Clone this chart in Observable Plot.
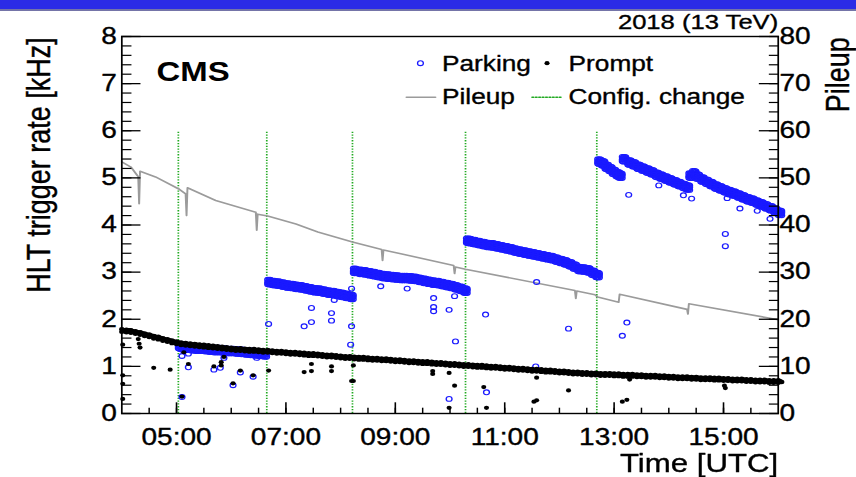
<!DOCTYPE html>
<html><head><meta charset="utf-8">
<script src="https://cdn.jsdelivr.net/npm/d3@7"></script>
<script src="https://cdn.jsdelivr.net/npm/@observablehq/plot@0.6"></script>
<style>
html,body{margin:0;padding:0;background:#fff;width:856px;height:477px;overflow:hidden;}
#bar{position:absolute;left:0;top:0;width:856px;height:9px;background:#2b2be6;border-bottom:2px solid #7474a8;z-index:2;}
#wrap{position:absolute;left:0;top:0;width:702px;height:477px;transform:scaleX(1.2194);transform-origin:0 0;}
</style></head><body>
<div id="bar"></div>
<div id="wrap"></div>
<script>
// ---------- data (time in minutes after 00:00 UTC, rate in kHz) ----------
const timeDomain = ["04:00", "16:00"];
const xTickLabels = ["05:00", "07:00", "09:00", "11:00", "13:00", "15:00"];
const yTickLabels = [0, 1, 2, 3, 4, 5, 6, 7, 8];
const pileupTickLabels = [0, 10, 20, 30, 40, 50, 60, 70, 80];
const pileupPerKHz = 10;
const configChange = ["05:02", "06:39", "08:13", "10:17", "12:41"];
const configTop = 6;

const promptTime = [
 240,245,250,255,260,265,270,275,280,285,290,295,
 300,305,310,315,320,325,330,335,340,345,350,355,
 360,365,370,375,380,385,390,395,400,405,410,415,
 420,425,430,435,440,445,450,455,460,465,470,475,
 480,485,490,495,500,505,510,515,520,525,530,535,
 540,545,550,555,560,565,570,575,580,585,590,595,
 600,605,610,615,620,625,630,635,640,645,650,655,
 660,665,670,675,680,685,690,695,700,705,710,715,
 720,725,730,735,740,745,750,755,760,765,770,775,
 780,785,790,795,800,805,810,815,820,825,830,835,
 840,845,850,855,860,865,870,875,880,885,890,895,
 900,905,910,915,920,925,930,935,940,945,950,955,
 960];
const promptRate = [
 1.76,1.75,1.74,1.72,1.70,1.67,1.65,1.62,1.60,1.57,1.55,1.52,
 1.50,1.48,1.47,1.46,1.45,1.44,1.43,1.42,1.41,1.40,1.39,1.38,
 1.37,1.36,1.36,1.35,1.34,1.34,1.33,1.32,1.32,1.31,1.30,1.30,
 1.29,1.28,1.28,1.27,1.26,1.25,1.25,1.24,1.23,1.22,1.22,1.21,
 1.20,1.19,1.19,1.18,1.17,1.17,1.16,1.15,1.15,1.14,1.14,1.13,
 1.12,1.12,1.11,1.10,1.10,1.09,1.08,1.08,1.07,1.06,1.06,1.05,
 1.04,1.04,1.03,1.02,1.02,1.01,1.00,1.00,0.99,0.98,0.98,0.97,
 0.96,0.96,0.95,0.94,0.94,0.93,0.92,0.92,0.91,0.90,0.90,0.89,
 0.88,0.88,0.87,0.86,0.86,0.85,0.85,0.84,0.84,0.83,0.83,0.83,
 0.82,0.82,0.81,0.81,0.81,0.80,0.80,0.79,0.79,0.79,0.78,0.78,
 0.77,0.77,0.76,0.76,0.76,0.75,0.75,0.74,0.74,0.74,0.73,0.73,
 0.72,0.72,0.71,0.71,0.71,0.70,0.70,0.69,0.69,0.69,0.68,0.68,
 0.68];
const promptOutTime = [241,241,241,241,258,259,260,275,293,306,308,313,341,349,349,352,362,370,384,401,440,448,448,470,470,494,492,494,581,581,599,605,599,637,640,695,692,695,730,789,794,797,901,902];
const promptOutRate = [1.46,0.81,0.63,0.31,1.58,1.48,1.40,0.97,0.93,0.36,1.30,1.05,1.00,1.09,1.02,1.20,0.64,0.91,0.81,0.91,0.88,1.05,0.90,1.00,0.90,1.02,0.69,0.69,0.90,0.84,0.86,0.59,0.12,0.56,0.12,0.76,0.25,0.28,0.49,0.25,0.29,0.72,0.59,0.54];

const parkingTime = [
 302,305,310,315,320,325,330,335,340,345,350,355,360,365,370,375,380,385,390,395,
 400,405,410,415,420,425,430,435,440,445,450,455,460,465,470,475,480,485,490,
 494,500,505,510,515,520,525,530,535,540,545,550,555,560,565,570,575,580,585,590,595,600,605,610,615,
 618,620,625,630,635,640,645,650,655,660,665,670,675,680,685,690,695,700,705,710,715,720,725,730,735,740,745,750,755,760,
 762,766,770,774,778,782,785,
 789,795,800,805,810,815,820,825,830,835,840,845,850,855,859,
 862,866,870,875,880,885,890,895,900,905,910,915,920,925,930,935,940,945,950,955,960];
const parkingRate = [
 1.43,1.41,1.40,1.39,1.38,1.38,1.37,1.36,1.35,1.35,1.34,1.33,1.33,1.32,1.31,1.30,1.29,1.28,1.27,1.26,
 2.79,2.77,2.76,2.74,2.72,2.71,2.69,2.68,2.66,2.64,2.62,2.61,2.59,2.57,2.56,2.54,2.52,2.50,2.48,
 3.03,3.01,3.00,2.98,2.96,2.94,2.92,2.91,2.90,2.89,2.88,2.88,2.87,2.86,2.84,2.82,2.80,2.78,2.77,2.75,2.73,2.71,2.68,2.65,2.61,
 3.67,3.66,3.64,3.62,3.60,3.58,3.57,3.55,3.53,3.51,3.49,3.46,3.44,3.42,3.40,3.38,3.36,3.34,3.32,3.30,3.27,3.24,3.21,3.17,3.12,3.07,3.06,3.04,2.99,2.94,
 5.35,5.31,5.24,5.19,5.13,5.08,5.05,
 5.40,5.33,5.29,5.24,5.20,5.16,5.12,5.07,5.03,4.99,4.95,4.91,4.87,4.83,4.80,
 5.05,5.10,5.03,4.97,4.92,4.87,4.82,4.78,4.74,4.70,4.67,4.63,4.59,4.55,4.52,4.48,4.44,4.40,4.36,4.31,4.26];
const parkingOutTime = [306,313,313,306,341,348,352,362,370,384,388,401,440,448,448,470,470,473,492,492,491,524,553,582,582,582,599,606,605,599,639,640,695,730,694,789,794,796,829,856,865,902,902,904,918,937,951];
const parkingOutRate = [1.22,0.98,1.27,0.35,0.93,0.97,1.18,0.60,0.87,0.78,1.18,1.90,1.85,1.94,2.24,2.13,1.97,2.41,2.65,1.85,1.46,2.70,2.65,2.45,2.26,2.17,2.20,1.53,2.49,0.31,2.10,0.45,2.79,1.80,1.00,1.65,1.93,4.64,4.84,4.63,4.56,3.81,3.55,4.57,4.35,4.30,4.13];

const pileupTime = [240,250,257,258,259,260,277,302,310,311,312,343,387,388,389,400,431,455,493,525,526,527,546,604,605,606,617,737,738,739,759,762,785,786,860,861,862,960];
const pileupValue = [53.4,52.3,50.5,50.3,44.5,51.4,50.2,47.7,46.6,42.0,47.9,45.2,42.7,38.9,42.3,41.9,40.2,38.5,36.4,34.8,32.5,34.7,33.9,31.4,29.7,31.1,30.6,26.1,24.4,26.0,25.2,24.7,23.6,25.3,22.1,21.1,23.3,19.9];

// ---------- build ----------
const toMin = s => { const [h, m] = s.split(":").map(Number); return h * 60 + m; };
const pair = (t, v) => t.map((d, i) => ({t: d, v: v[i]}));
const promptBand = pair(promptTime, promptRate);
const promptOut = pair(promptOutTime, promptOutRate);
const parkingBand = pair(parkingTime, parkingRate);
const parkingOut = pair(parkingOutTime, parkingOutRate);
const pileup = pair(pileupTime, pileupValue);
const configMin = configChange.map(toMin);
const xMajor = xTickLabels.map(toMin);
const xMinor = d3.range(toMin(timeDomain[0]) + 30, toMin(timeDomain[1]), 30);
const yMinor = d3.range(0, 8.001, 0.2).map(v => Math.round(v * 10) / 10);
const pileupTicks = pileupTickLabels.map(p => p / pileupPerKHz);

const blue = "#1a1aff", green = "#22aa22", gray = "#9b9b9b";
const hline = {draw(context, l) { context.moveTo(0, 0); context.lineTo(l, 0); }};
const font = "'Liberation Sans', Arial, sans-serif";
const ink = {fill: "black", stroke: "black", strokeWidth: 0.35};   // slightly heavier glyphs, like the reference
// overlapping copies (pixel offsets) emulate the density of the many overlapping measurements
const parkingSpread = d3.cross([0, 0.95, 1.9, 2.85], [-2.2, 0, 2.2]).map(([dx, dy], i) => [dx, dy + (i % 2) * 0.4]);
const promptSpread = [[0, -1.3], [1.9, 0], [0, 1.3], [0.95, -0.6], [2.85, 0.6]];

const chart = Plot.plot({
  width: 702, height: 477,
  marginTop: 36, marginBottom: 64, marginLeft: 99.4, marginRight: 64.3,
  x: {domain: timeDomain.map(toMin), label: null},
  y: {domain: [0, 8], label: null},
  style: {fontFamily: font, fontSize: "23px", color: "black", background: "white", overflow: "visible"},
  marks: [
    Plot.ruleX(configMin, {x: d => d, y1: 0, y2: configTop, stroke: green, strokeWidth: 1.4, strokeDasharray: "1.3,1.5"}),
    Plot.line(pileup, {x: "t", y: d => d.v / pileupPerKHz, stroke: gray, strokeWidth: 1.6}),
    ...parkingSpread.map(([dx, dy]) => Plot.dot(parkingBand, {x: "t", y: "v", r: 2.4, stroke: blue, strokeWidth: 1.1, dx, dy})),
    Plot.dot(parkingOut, {x: "t", y: "v", r: 2.4, stroke: blue, strokeWidth: 1.1}),
    ...promptSpread.map(([dx, dy]) => Plot.dot(promptBand, {x: "t", y: "v", r: 2.2, fill: "black", dx, dy})),
    Plot.dot(promptOut, {x: "t", y: "v", r: 2.1, fill: "black"}),
    Plot.frame({stroke: "black", strokeWidth: 1.4}),
    Plot.axisY(yMinor, {anchor: "left", tickSize: -8.4, strokeWidth: 1.2, fill: "none", label: null}),
    Plot.axisY(yTickLabels, {anchor: "left", tickSize: -15.8, tickPadding: 19.8, strokeWidth: 1.3, fontSize: 23, label: null,
      textStroke: "black", textStrokeWidth: 0.35}),
    Plot.axisY(yMinor, {anchor: "right", tickSize: -8.2, strokeWidth: 1.2, fill: "none", label: null}),
    Plot.axisY(pileupTicks, {anchor: "right", tickSize: -16.4, tickPadding: 17.4, strokeWidth: 1.3, fontSize: 23, label: null,
      textStroke: "black", textStrokeWidth: 0.35,
      tickFormat: d => String(pileupTickLabels[pileupTicks.indexOf(d)])}),
    Plot.axisX(xMinor, {anchor: "bottom", tickSize: -5.3, strokeWidth: 1.2, fill: "none", label: null}),
    Plot.axisX(xMajor, {anchor: "bottom", tickSize: -10.7, tickPadding: 25.4, strokeWidth: 1.3, fontSize: 23, label: null,
      textStroke: "black", textStrokeWidth: 0.35,
      tickFormat: m => xTickLabels[xMajor.indexOf(m)]}),
    // titles
    Plot.text(["CMS"], {text: d => d, frameAnchor: "top-left", dx: 28.5, dy: 44, lineAnchor: "bottom", textAnchor: "start", fontWeight: "bold", fontSize: 27, fill: "black"}),
    Plot.text(["2018 (13 TeV)"], {text: d => d, frameAnchor: "top-right", dy: -7.7, lineAnchor: "bottom", textAnchor: "end", fontSize: 21, ...ink}),
    Plot.text(["HLT trigger rate [kHz]"], {text: d => d, frameAnchor: "top-left", rotate: -90, dx: -59.2, dy: 0.7, lineAnchor: "bottom", textAnchor: "end", fontSize: 27, ...ink}),
    Plot.text(["Pileup"], {text: d => d, frameAnchor: "top-right", rotate: -90, dx: 57.8, dy: 0.7, lineAnchor: "bottom", textAnchor: "end", fontSize: 27, ...ink}),
    Plot.text(["Time [UTC]"], {text: d => d, frameAnchor: "bottom-right", dy: 58.7, lineAnchor: "bottom", textAnchor: "end", fontSize: 25.6, ...ink}),
    // legend
    Plot.dot([0], {frameAnchor: "top-left", dx: 244.9, dy: 26.7, r: 2.4, stroke: blue, strokeWidth: 1.1}),
    Plot.text(["Parking"], {text: d => d, frameAnchor: "top-left", dx: 262.6, dy: 34, lineAnchor: "bottom", textAnchor: "start", fontSize: 21.5, ...ink}),
    Plot.dot([0], {frameAnchor: "top-left", dx: 348.7, dy: 26.7, r: 2.1, fill: "black"}),
    Plot.text(["Prompt"], {text: d => d, frameAnchor: "top-left", dx: 366.4, dy: 34, lineAnchor: "bottom", textAnchor: "start", fontSize: 21.5, ...ink}),
    Plot.vector([0], {frameAnchor: "top-left", dx: 233.4, dy: 60.7, length: 23.8, rotate: 0, shape: hline, anchor: "start", stroke: gray, strokeWidth: 1.6}),
    Plot.text(["Pileup"], {text: d => d, frameAnchor: "top-left", dx: 262.6, dy: 67.5, lineAnchor: "bottom", textAnchor: "start", fontSize: 21.5, ...ink}),
    Plot.vector([0], {frameAnchor: "top-left", dx: 336.4, dy: 60.7, length: 24.6, rotate: 0, shape: hline, anchor: "start", stroke: green, strokeWidth: 1.4, strokeDasharray: "1.3,1.5"}),
    Plot.text(["Config. change"], {text: d => d, frameAnchor: "top-left", dx: 366.4, dy: 67.5, lineAnchor: "bottom", textAnchor: "start", fontSize: 21.5, ...ink})
  ]
});
document.getElementById("wrap").appendChild(chart);
</script></body></html>
